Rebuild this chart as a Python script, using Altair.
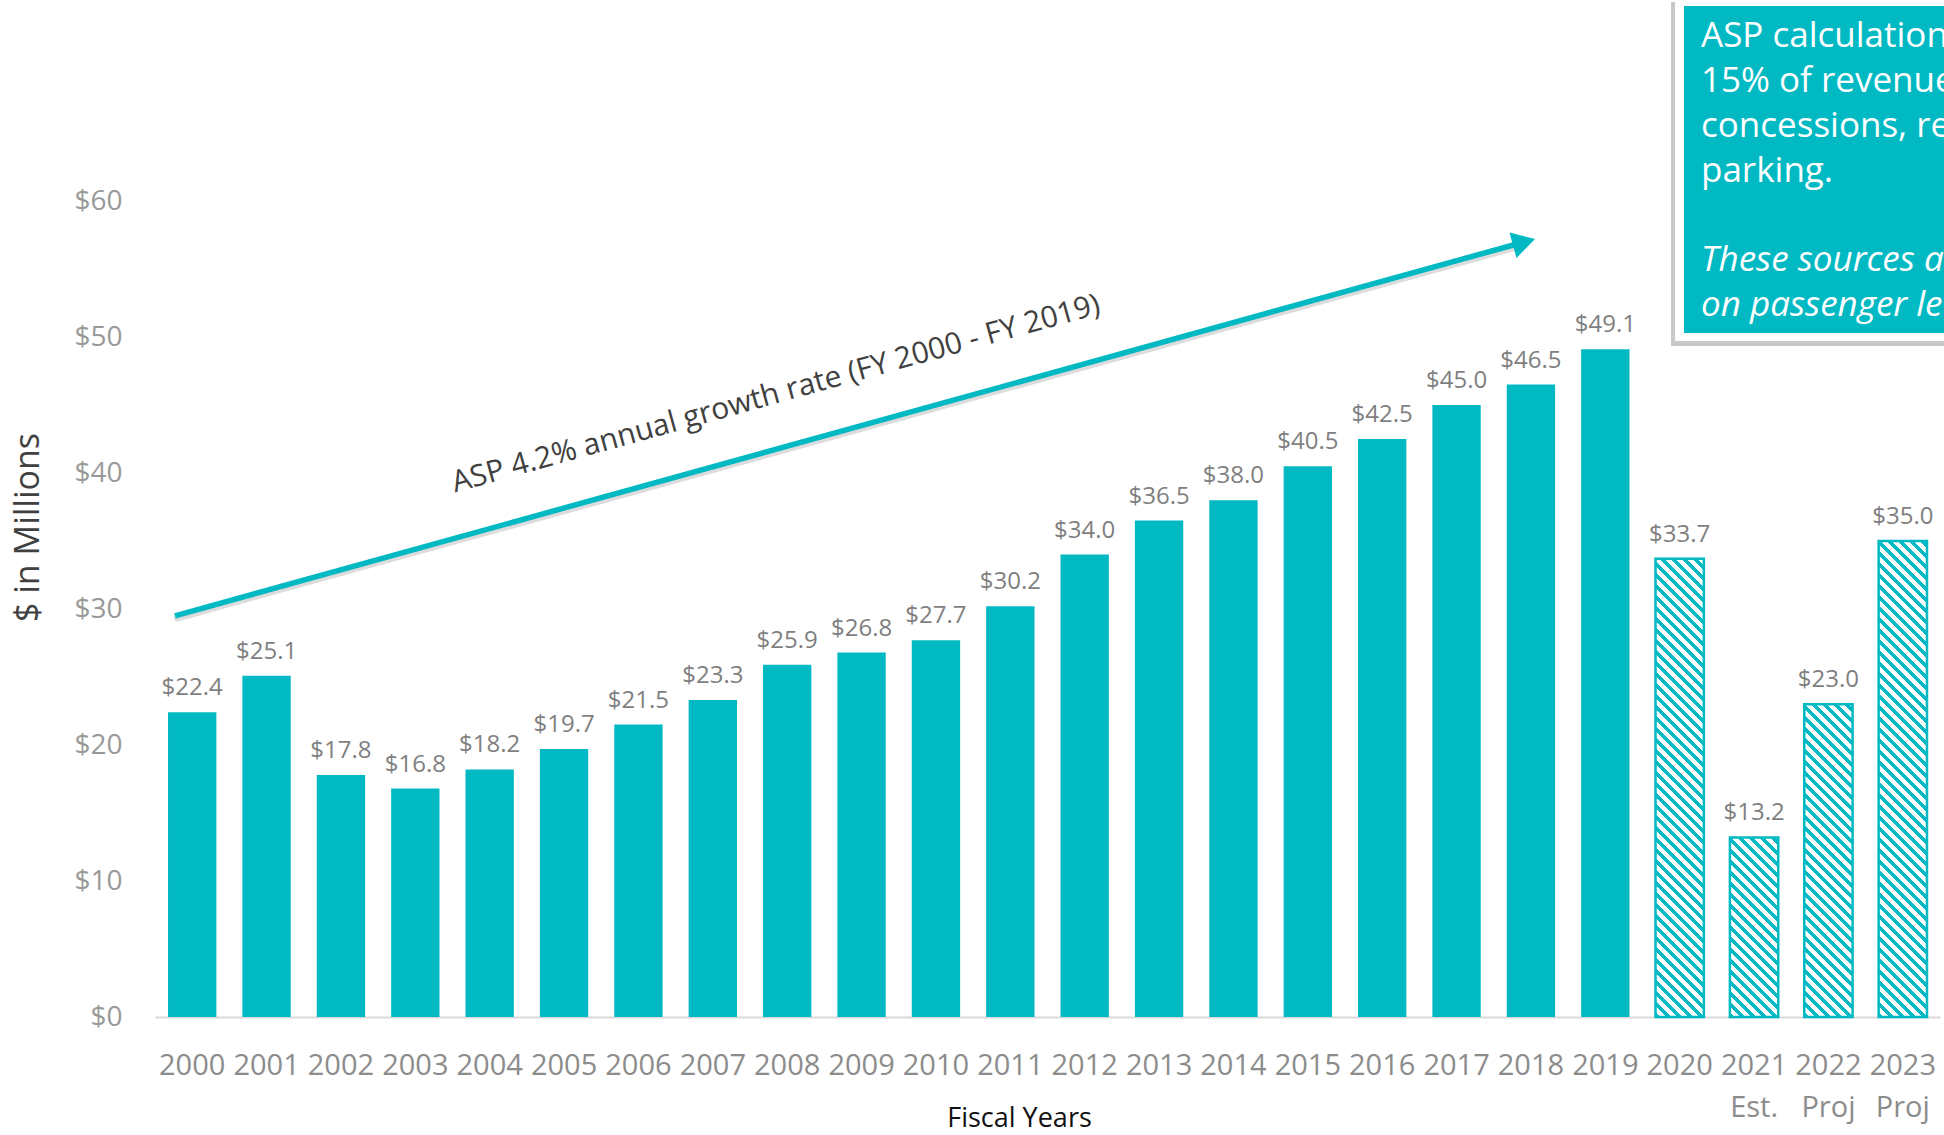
import altair as alt
import pandas as pd

# ---------------- data ----------------
years = ["2000", "2001", "2002", "2003", "2004", "2005", "2006", "2007", "2008", "2009",
         "2010", "2011", "2012", "2013", "2014", "2015", "2016", "2017", "2018", "2019",
         "2020", "2021", "2022", "2023"]
values = [22.4, 25.1, 17.8, 16.8, 18.2, 19.7, 21.5, 23.3, 25.9, 26.8,
          27.7, 30.2, 34.0, 36.5, 38.0, 40.5, 42.5, 45.0, 46.5, 49.1,
          33.7, 13.2, 23.0, 35.0]
notes = ["", "", "", "", "", "", "", "", "", "",
         "", "", "", "", "", "", "", "", "", "",
         "", "Est.", "Proj", "Proj"]
projected_years = ["2020", "2021", "2022", "2023"]
y_ticks = [0, 10, 20, 30, 40, 50, 60]

arrow_label = "ASP 4.2% annual growth rate (FY 2000 - FY 2019)"
box_lines = ["ASP calculation based on", "15% of revenues from", "concessions, rental cars and", "parking."]
box_italic = ["These sources are dependent", "on passenger levels."]

df = pd.DataFrame({
    "year": years,
    "value": values,
    "kind": ["proj" if y in projected_years else "actual" for y in years],
})

# ---------------- layout / style ----------------
FONT = "Open Sans"
TEAL = "#00B9C3"
W, H = 1785, 816
PAD = {"left": 155, "top": 201, "right": 4, "bottom": 118}
PAD_IN, PAD_OUT = 0.35, 0.175
YMAX = 60

step = W / (len(years) - PAD_IN + 2 * PAD_OUT)
bar_w = step * (1 - PAD_IN)
px_per_unit = H / YMAX


def hatch(v):
    """Diagonal '\\' stripes as a sharp-stop linear gradient in bbox units."""
    w, h = bar_w, v * px_per_unit
    c = (w + h) / (w * w + h * h)
    period = 11.0 / (w + h)
    stops = []
    t = 0.0
    while t < 1.0:
        a = round(t, 5)
        b = round(min(t + 0.45 * period, 1.0), 5)
        e = round(min(t + period, 1.0), 5)
        stops += [{"offset": a, "color": TEAL}, {"offset": b, "color": TEAL},
                  {"offset": b, "color": "#ffffff"}, {"offset": e, "color": "#ffffff"}]
        t += period
    return {"gradient": "linear", "x1": 0, "y1": 1, "x2": c * w, "y2": 1 - c * h, "stops": stops}


# x label expression: two-line labels for notes
label_expr = "datum.value"
for y, n in zip(years, notes):
    if n:
        label_expr = f"datum.value == '{y}' ? ['{y}', '{n}'] : ({label_expr})"

x_enc = alt.X(
    "year:N", sort=years,
    scale=alt.Scale(domain=years, paddingInner=PAD_IN, paddingOuter=PAD_OUT),
    axis=alt.Axis(
        title="Fiscal Years", labelAngle=0, labelExpr=label_expr, labelOverlap=False,
        labelBound=False, labelFont=FONT, labelFontSize=29, labelColor="#8c8c8c",
        labelBaseline="top", labelPadding=34, labelLineHeight=42,
        ticks=False, tickSize=0, domainColor="#d9d9d9", domainWidth=2,
        titleFont=FONT, titleFontSize=27, titleFontWeight="normal", titleColor="#111111",
        titleX=864, titleY=101, titleBaseline="middle", titleAlign="center",
    ),
)
y_enc = alt.Y(
    "value:Q",
    scale=alt.Scale(domain=[0, YMAX], nice=False, zero=True),
    axis=alt.Axis(
        values=y_ticks, labelExpr="'$' + datum.value", grid=False, domain=False,
        ticks=False, tickSize=0, labelPadding=33, labelFont=FONT, labelFontSize=28,
        labelColor="#999999",
        title="$ in Millions", titleFont=FONT, titleFontSize=34, titleFontWeight="normal",
        titleColor="#404040", titleAngle=270, titleX=-127, titleY=326,
        titleBaseline="middle", titleAlign="center",
    ),
)

base = alt.Chart(df).encode(x=x_enc, y=y_enc)

solid = base.transform_filter(alt.datum.kind == "actual").mark_bar(color=TEAL)

hatched = []
for y, v in zip(years, values):
    if y in projected_years:
        hatched.append(
            base.transform_filter(alt.datum.year == y).mark_bar(
                fill=hatch(v), stroke=TEAL, strokeWidth=2.5
            )
        )

labels = base.mark_text(
    baseline="alphabetic", dy=-17, font=FONT, fontSize=24, color="#7f7f7f"
).encode(text=alt.Text("value:Q", format="$.1f"))

one = pd.DataFrame({"k": [0]})
ann = alt.Chart(one)

# growth arrow (x in pixels, y in data units)
arrow_shadow = ann.mark_rule(color="#9a9a9a", strokeWidth=6, opacity=0.35, strokeCap="round").encode(
    x=alt.value(22), x2=alt.value(1362), y=alt.datum(29.3), y2=alt.datum(56.6)
)
arrow = ann.mark_rule(color=TEAL, strokeWidth=5.5).encode(
    x=alt.value(20), x2=alt.value(1362), y=alt.datum(29.5), y2=alt.datum(56.84)
)
head = ann.mark_point(shape="triangle-up", filled=True, size=700, angle=74.5,
                      color=TEAL, opacity=1).encode(
    x=alt.value(1369), y=alt.datum(56.98)
)
arrow_text = ann.mark_text(angle=344.5, font=FONT, fontSize=30, color="#404040",
                           align="center", baseline="middle").encode(
    x=alt.value(621), y=alt.datum(45.8), text=alt.value(arrow_label)
)

# callout box (top right, clipped by the page edge)
box_shadow = ann.mark_rect(color="#c8c8c8").encode(
    x=alt.value(1516), x2=alt.value(1820), y=alt.value(-199), y2=alt.value(145)
)
box_white = ann.mark_rect(color="#ffffff").encode(
    x=alt.value(1520), x2=alt.value(1820), y=alt.value(-204), y2=alt.value(140)
)
box_teal = ann.mark_rect(color=TEAL).encode(
    x=alt.value(1529), x2=alt.value(1820), y=alt.value(-195), y2=alt.value(132)
)
box_text = ann.mark_text(align="left", baseline="alphabetic", font=FONT, fontSize=35,
                         color="#ffffff", lineHeight=45).encode(
    x=alt.value(1546), y=alt.value(-154), text=alt.value(box_lines)
)
box_text_it = ann.mark_text(align="left", baseline="alphabetic", font=FONT, fontSize=35,
                            fontStyle="italic", color="#ffffff", lineHeight=45).encode(
    x=alt.value(1546), y=alt.value(70), text=alt.value(box_italic)
)

chart = alt.layer(
    solid, *hatched, labels, arrow_shadow, arrow, head, arrow_text,
    box_shadow, box_white, box_teal, box_text, box_text_it,
).properties(
    width=W, height=H,
    autosize=alt.AutoSizeParams(type="none"),
    padding=PAD,
    background="#ffffff",
).configure_view(stroke=None)

chart.save("out.html", embed_options={"renderer": "svg", "actions": False})
